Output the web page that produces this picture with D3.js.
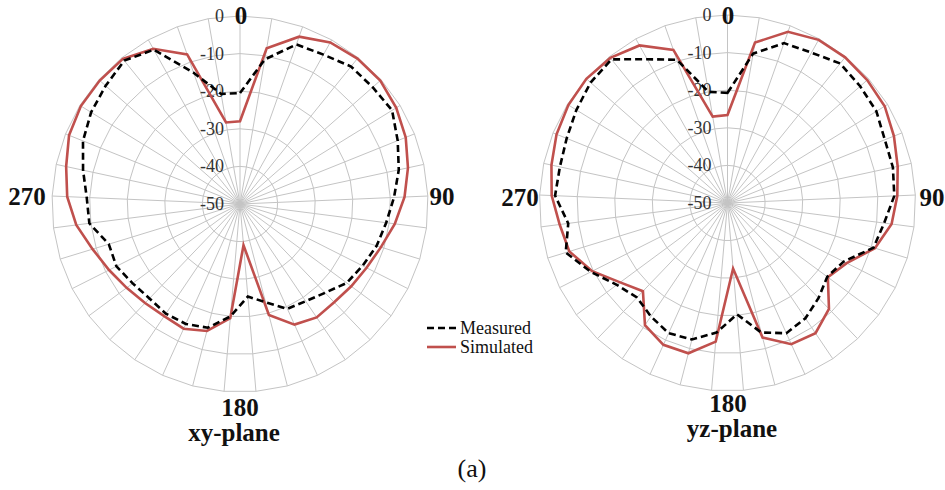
<!DOCTYPE html>
<html>
<head>
<meta charset="utf-8">
<script src="https://cdn.jsdelivr.net/npm/d3@7"></script>
</head>
<body style="margin:0;background:#fff">
<svg id="chart" width="945" height="490" style="display:block"></svg>
<script>
// ---------------- data ----------------
const angles = d3.range(0, 361, 10); // 37 categories: 0..360 deg
const radialTicks = [0, -10, -20, -30, -40, -50];
const cardinalLabels = ["0", "90", "180", "270"];
const seriesNames = ["Measured", "Simulated"];
const planeTitles = ["xy-plane", "yz-plane"];
const figureLabel = "(a)";

const xyMeasured = [-20.5, -11, -5, -4.5, -3, -3, -2.5, -4.8, -6.8, -9, -10.8, -12, -13.5, -14.7, -17.3, -18.8, -19.4, -23, -25.3,
  -20, -16, -15, -14.8, -15.2, -14.5, -13.2, -13.5, -9.6, -9.2, -7.3, -5, -3.5, -2.4, -1, -3, -13, -20.3];
const xySimulated = [-28, -8, -2.8, -0.8, -0.3, -0.3, -1.2, -2.5, -4.3, -6.2, -8.5, -10.8, -12.3, -13.2, -13.8, -13.6, -14.8, -19.5, -39,
  -19.5, -15.1, -13.6, -14, -13.5, -12.5, -11, -9, -6.1, -4, -2.7, -1, -0.3, -0.3, -0.4, -2.7, -7.8, -28];
const yzMeasured = [-20.7, -9.7, -4.9, -4.2, -2.3, -3, -3.5, -4.9, -5, -5.6, -8, -9.4, -15.4, -17, -15, -13, -12, -14.4, -20.3,
  -15.4, -12.5, -12, -13.6, -15.2, -13.4, -9.3, -5, -7.3, -4.1, -4.4, -3.9, -2.8, -1.5, -0.9, -6.2, -9.6, -20];
const yzSimulated = [-26.6, -6.7, -1.7, -0.3, -0.2, -0.5, -0.9, -2.3, -3.7, -4.8, -6, -9, -14.5, -16.8, -11, -8.2, -8.8, -13, -32.5,
  -13, -8.7, -8.6, -10.8, -17.5, -14.5, -9.7, -6, -5, -3.2, -2.1, -1, -0.3, 0, -0.4, -2, -6.8, -26.7];

// ---------------- layout ----------------
const FONT = '"Liberation Serif"';
const svg = d3.select("#chart");
const colors = { measured: "#000000", simulated: "#c0504d", grid: "#c4c4c4", tick: "#333333" };

const panels = [
  { cx: 240, cy: 204, R: 188, title: planeTitles[0], meas: xyMeasured, sim: xySimulated,
    lab: { top: [241, 24], right: [442, 205], bottom: [240, 416], left: [27, 205], title: [234, 441] } },
  { cx: 727.5, cy: 203, R: 188, title: planeTitles[1], meas: yzMeasured, sim: yzSimulated,
    lab: { top: [728, 24], right: [932, 206], bottom: [728, 412], left: [520, 206], title: [732, 437] } }
];

const n = angles.length;
const angleScale = d3.scaleLinear().domain([0, n]).range([0, 2 * Math.PI]);

panels.forEach(p => {
  const r = d3.scaleLinear().domain([-50, 0]).range([0, p.R]);
  const g = svg.append("g").attr("transform", `translate(${p.cx},${p.cy})`);

  // rings (polygons)
  const ringLine = v => d3.lineRadial()
    .angle((d, i) => angleScale(i))
    .radius(() => r(v))
    .curve(d3.curveLinearClosed)(angles);
  radialTicks.filter(t => t > -50).forEach(t => {
    g.append("path").attr("d", ringLine(t))
      .attr("fill", "none").attr("stroke", colors.grid).attr("stroke-width", 1);
  });
  // spokes
  angles.forEach((a, i) => {
    const th = angleScale(i);
    g.append("line")
      .attr("x1", 0).attr("y1", 0)
      .attr("x2", r(0) * Math.sin(th)).attr("y2", -r(0) * Math.cos(th))
      .attr("stroke", colors.grid).attr("stroke-width", 1);
  });

  // radial tick labels
  radialTicks.forEach(t => {
    g.append("text")
      .attr("x", -16).attr("y", -r(t) + 6)
      .attr("text-anchor", "end")
      .style("font-family", FONT)
      .attr("font-size", 18)
      .attr("fill", colors.tick)
      .text(t);
  });

  // series
  const seriesLine = d3.lineRadial()
    .angle((d, i) => angleScale(i))
    .radius(d => r(d))
    .curve(d3.curveLinearClosed);
  g.append("path").attr("d", seriesLine(p.sim))
    .attr("fill", "none").attr("stroke", colors.simulated).attr("stroke-width", 2.6)
    .attr("stroke-linejoin", "miter");
  g.append("path").attr("d", seriesLine(p.meas))
    .attr("fill", "none").attr("stroke", colors.measured).attr("stroke-width", 2.6)
    .attr("stroke-dasharray", "7,4");

  // cardinal labels
  const pos = [p.lab.top, p.lab.right, p.lab.bottom, p.lab.left];
  cardinalLabels.forEach((txt, i) => {
    svg.append("text")
      .attr("x", pos[i][0]).attr("y", pos[i][1])
      .attr("text-anchor", "middle")
      .style("font-family", FONT)
      .attr("font-size", 25).attr("font-weight", "bold")
      .attr("fill", "#111")
      .text(txt);
  });
  svg.append("text")
    .attr("x", p.lab.title[0]).attr("y", p.lab.title[1])
    .attr("text-anchor", "middle")
    .style("font-family", FONT)
    .attr("font-size", 25).attr("font-weight", "bold")
    .attr("fill", "#111")
    .text(p.title);
});

// legend
const legend = svg.append("g").attr("transform", "translate(427,328)");
seriesNames.forEach((name, i) => {
  const y = i * 19;
  legend.append("line")
    .attr("x1", 0).attr("x2", 29).attr("y1", y).attr("y2", y)
    .attr("stroke", i === 0 ? colors.measured : colors.simulated)
    .attr("stroke-width", 2.6)
    .attr("stroke-dasharray", i === 0 ? "7,4" : null);
  legend.append("text")
    .attr("x", 33).attr("y", y + 6)
    .style("font-family", FONT)
    .attr("font-size", 18).attr("fill", "#111")
    .text(name);
});

// figure label
svg.append("text")
  .attr("x", 472).attr("y", 477)
  .attr("text-anchor", "middle")
  .style("font-family", FONT)
  .attr("font-size", 26).attr("fill", "#111")
  .text(figureLabel);
</script>
</body>
</html>
